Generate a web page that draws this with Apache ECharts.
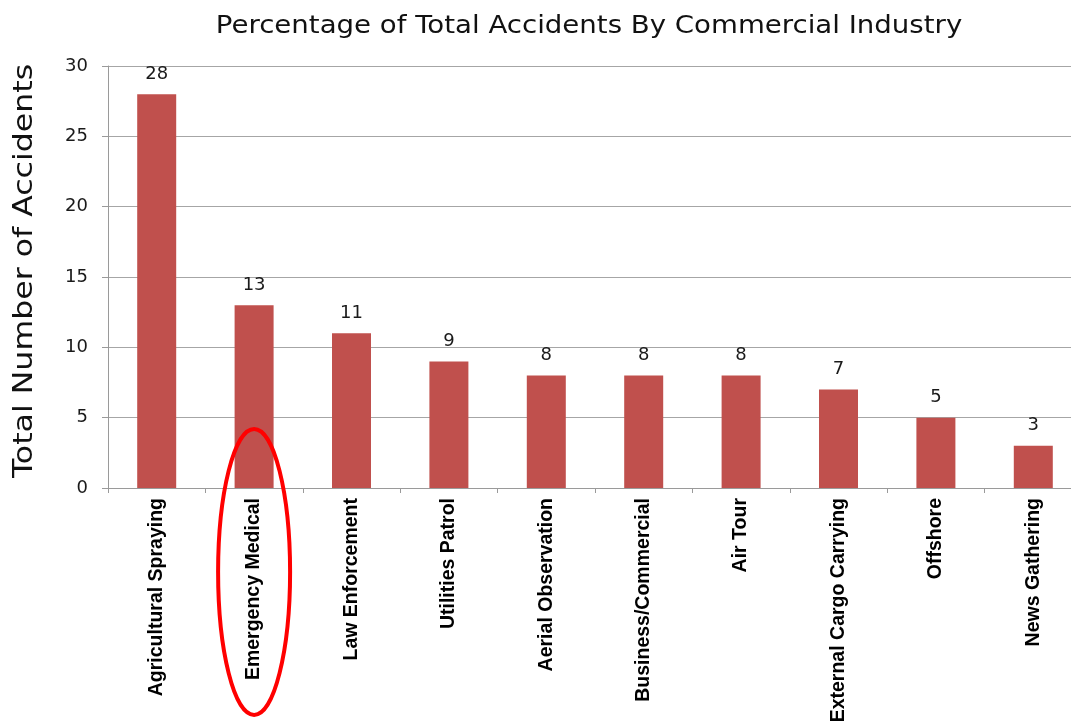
<!DOCTYPE html>
<html><head><meta charset="utf-8">
<script src="https://cdn.jsdelivr.net/npm/echarts@6/dist/echarts.min.js"></script>
<style>html,body{margin:0;padding:0;background:#fff}#c{width:1071px;height:721px}</style>
</head><body><div id="c"></div>
<script>
var categories = ['Agricultural Spraying','Emergency Medical','Law Enforcement','Utilities Patrol','Aerial Observation','Business/Commercial','Air Tour','External Cargo Carrying','Offshore','News Gathering'];
var accidents = [28, 13, 11, 9, 8, 8, 8, 7, 5, 3];
var highlighted = 'Emergency Medical';
var titleText = 'Percentage of Total Accidents By Commercial Industry';
var yAxisName = 'Total Number of Accidents';

var gothic = '"DejaVu Sans", sans-serif';
var chart = echarts.init(document.getElementById('c'), null, {renderer:'canvas'});
chart.setOption({
  animation:false,
  backgroundColor:'#fff',
  grid:{left:108,top:66,width:974,height:422,containLabel:false,outerBoundsMode:'none'},
  xAxis:{type:'category',data:categories,
    axisLine:{lineStyle:{color:'#9a9a9a',width:1}},
    axisTick:{show:true,length:5,alignWithLabel:false,lineStyle:{color:'#9a9a9a'}},
    axisLabel:{rotate:90,interval:0,margin:10,fontFamily:'"Liberation Sans", Arial, sans-serif',fontWeight:'bold',fontSize:19.5,color:'#000'}},
  yAxis:{type:'value',min:0,max:30,interval:5,
    axisLine:{show:true,lineStyle:{color:'#9a9a9a'}},
    axisTick:{show:true,length:6,lineStyle:{color:'#9a9a9a'}},
    axisLabel:{margin:20,fontFamily:gothic,fontSize:18,color:'#1a1a1a'},
    splitLine:{lineStyle:{color:'#a6a6a6',width:1}}},
  series:[{type:'bar',data:accidents,barWidth:39,
    itemStyle:{color:'#C0504D'},
    label:{show:true,position:'top',distance:11,fontFamily:gothic,fontSize:18,color:'#1a1a1a'}}]
});
var cx = chart.convertToPixel({xAxisIndex:0}, highlighted);
var gridMidY = (chart.convertToPixel({yAxisIndex:0}, 0) + chart.convertToPixel({yAxisIndex:0}, 30)) / 2;
chart.setOption({graphic:[
  {type:'text',x:589,y:27,scaleX:1.15,z:100,
    style:{text:titleText,font:'normal 24px "DejaVu Sans", sans-serif',fill:'#111',align:'center',verticalAlign:'middle'}},
  {type:'text',x:25,y:gridMidY-6,rotation:Math.PI/2,scaleX:1.17,z:100,
    style:{text:yAxisName,font:'normal 27px "DejaVu Sans", sans-serif',fill:'#111',align:'center',verticalAlign:'middle'}},
  {type:'ellipse',shape:{cx:cx,cy:572,rx:36,ry:143},
    style:{fill:'none',stroke:'#FF0000',lineWidth:4},z:100}]});
</script></body></html>
